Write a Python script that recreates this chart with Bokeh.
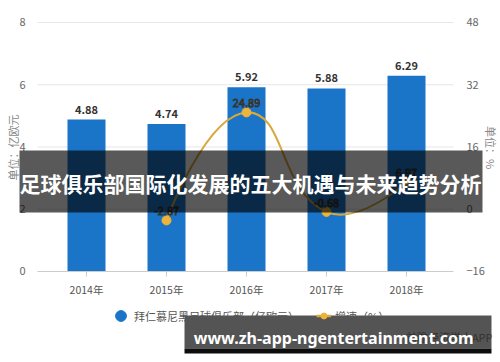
import math
from bokeh.plotting import figure
from bokeh.models import (Range1d, LinearAxis, FixedTicker, ColumnDataSource, Label,
                          BoxAnnotation, Legend, LegendItem)
from bokeh.core.properties import value
from bokeh.embed import file_html
from bokeh.resources import INLINE

# ---- data ----
years = ["2014年", "2015年", "2016年", "2017年", "2018年"]
revenue = [4.88, 4.74, 5.92, 5.88, 6.29]          # 亿欧元
growth_years = ["2015年", "2016年", "2017年", "2018年"]
growth = [-2.87, 24.89, -0.68, 6.97]              # %
left_ticks = [0, 2, 4, 6, 8]
right_ticks = [-16, 0, 16, 32, 48]
title_text = "足球俱乐部国际化发展的五大机遇与未来趋势分析"
url_text = "www.zh-app-ngentertainment.com"
bar_name = "拜仁慕尼黑足球俱乐部（亿欧元）"
line_name = "增速（%）"
left_title = "单位：亿欧元"
right_title = "单位：%"
source_text = "前瞻经济学人APP"

BLUE = "#1a75c8"
GOLD = "#d8a83a"
GOLD_M = "#eeb33a"
FONT = "Noto Sans CJK SC"

# layout (plot area edges in category / value units; the canvas is the whole frame)
X_LO, X_HI = -0.6125, 4.5875
XR = (-1.075, 5.175)
YR = (-2.9237, 8.7068)
PCT = (8 * YR[0] - 16, 8 * YR[1] - 16)

xs = list(range(len(years)))
gx = [years.index(y) for y in growth_years]

p = figure(width=500, height=362, output_backend="svg", toolbar_location=None,
           x_range=Range1d(*XR), y_range=Range1d(*YR),
           min_border_left=0, min_border_right=0, min_border_top=0, min_border_bottom=0)
p.outline_line_color = None
p.background_fill_color = "white"
p.border_fill_color = "white"
p.extra_y_ranges = {"pct": Range1d(*PCT)}
p.xgrid.grid_line_color = None
p.ygrid.grid_line_color = None

# horizontal grid lines across the plot area
p.segment(x0=[X_LO] * 4, x1=[X_HI] * 4, y0=left_ticks[1:], y1=left_ticks[1:],
          line_color="#e6e6e6", line_width=1)

# x axis (drawn at value 0)
xa = p.xaxis[0]
xa.fixed_location = 0
xa.bounds = (X_LO, X_HI)
xa.ticker = FixedTicker(ticks=xs)
xa.major_label_overrides = {i: y for i, y in zip(xs, years)}
xa.axis_line_color = "#cccccc"
xa.major_tick_line_color = "#cccccc"
xa.major_tick_out = 5
xa.major_tick_in = 0
xa.minor_tick_line_color = None
xa.major_label_standoff = 6
xa.major_label_text_font = FONT
xa.major_label_text_font_size = "10.5px"
xa.major_label_text_color = "#555555"

# left y axis
ya = p.yaxis[0]
ya.fixed_location = X_LO
ya.ticker = FixedTicker(ticks=left_ticks)
ya.axis_line_color = None
ya.major_tick_line_color = None
ya.minor_tick_line_color = None
ya.major_label_standoff = 6
ya.major_label_text_font = FONT
ya.major_label_text_font_size = "11px"
ya.major_label_text_color = "#666666"

# right y axis
ra = LinearAxis(y_range_name="pct", ticker=FixedTicker(ticks=right_ticks), fixed_location=X_HI)
ra.axis_line_color = None
ra.major_tick_line_color = None
ra.minor_tick_line_color = None
ra.major_label_standoff = 7
ra.major_label_text_font = FONT
ra.major_label_text_font_size = "11px"
ra.major_label_text_color = "#666666"
p.add_layout(ra, "right")

# bars
bar_src = ColumnDataSource(dict(x=xs, top=revenue, lab=[f"{v:.2f}" for v in revenue]))
p.vbar(x="x", top="top", width=0.475, bottom=0, source=bar_src, fill_color=BLUE, line_color=None)
p.text(x="x", y="top", text="lab", source=bar_src, text_align="center", text_baseline="bottom",
       y_offset=-6, text_font=value(FONT), text_font_style="bold", text_font_size="11px",
       text_color="#333333")

# smooth growth line (echarts-like bezier control points)
SX, SY = 80.0, 3.875
P = [(x * SX, -g * SY) for x, g in zip(gx, growth)]
n = len(P)
sm = 0.5
cps = []
for i in range(n):
    if i == 0 or i == n - 1:
        cps.append(P[i])
        continue
    vx = (P[i + 1][0] - P[i - 1][0]) * sm
    vy = (P[i + 1][1] - P[i - 1][1]) * sm
    d0 = math.dist(P[i], P[i - 1])
    d1 = math.dist(P[i], P[i + 1])
    s = d0 + d1
    d0 /= s
    d1 /= s
    cps.append((P[i][0] - vx * d0, P[i][1] - vy * d0))
    cps.append((P[i][0] + vx * d1, P[i][1] + vy * d1))
seg = dict(x0=[], y0=[], x1=[], y1=[], cx0=[], cy0=[], cx1=[], cy1=[])
for i in range(n - 1):
    a, b = P[i], P[i + 1]
    c0, c1 = cps[2 * i], cps[2 * i + 1]
    seg["x0"].append(a[0] / SX); seg["y0"].append(-a[1] / SY)
    seg["x1"].append(b[0] / SX); seg["y1"].append(-b[1] / SY)
    seg["cx0"].append(c0[0] / SX); seg["cy0"].append(-c0[1] / SY)
    seg["cx1"].append(c1[0] / SX); seg["cy1"].append(-c1[1] / SY)
p.bezier(source=ColumnDataSource(seg), x0="x0", y0="y0", x1="x1", y1="y1",
         cx0="cx0", cy0="cy0", cx1="cx1", cy1="cy1",
         line_color=GOLD, line_width=2, y_range_name="pct")

gsrc = ColumnDataSource(dict(x=gx, y=growth, lab=[f"{v:.2f}" for v in growth]))
p.scatter(x="x", y="y", source=gsrc, marker="circle", size=9, fill_color=GOLD_M,
          line_color=GOLD_M, y_range_name="pct")
p.text(x="x", y="y", text="lab", source=gsrc, y_range_name="pct", text_align="center",
       text_baseline="bottom", y_offset=-5, text_font=value(FONT), text_font_size="11px",
       text_color="white", text_outline_color="#333333")

# axis titles
p.add_layout(Label(x=-0.925, y=3.98, text=left_title, angle=math.pi / 2, text_align="center",
                   text_baseline="middle", text_font=FONT, text_font_size="11px",
                   text_color="#888888"))
p.add_layout(Label(x=5.05, y=3.98, text=right_title, angle=-math.pi / 2, text_align="center",
                   text_baseline="middle", text_font=FONT, text_font_size="11px",
                   text_color="#888888"))

# legend swatches (one point each, placed outside the visible ranges)
OFF_X, OFF_Y = XR[0] - 5, YR[0] - 5
r1 = p.scatter(x=[OFF_X], y=[OFF_Y], marker="circle", size=11, fill_color=BLUE, line_color=BLUE)
r2 = p.line(x=[OFF_X, OFF_X - 1], y=[OFF_Y, OFF_Y], line_color=GOLD, line_width=2.5)
r3 = p.scatter(x=[OFF_X], y=[OFF_Y], marker="circle", size=7, fill_color=GOLD_M, line_color=GOLD_M)
common = dict(orientation="horizontal", border_line_color=None, background_fill_alpha=0,
              label_text_font=FONT, label_text_font_size="11px", label_text_color="#555555",
              padding=0, margin=0)
legend1 = Legend(items=[LegendItem(label=bar_name, renderers=[r1])], location=(107, 33),
                 glyph_width=27, glyph_height=27, label_standoff=0, **common)
legend2 = Legend(items=[LegendItem(label=line_name, renderers=[r2, r3])], location=(316, 38),
                 glyph_width=15, glyph_height=17, label_standoff=4, **common)
p.add_layout(legend1)
p.add_layout(legend2)

# source text partly hidden under the bottom banner
p.add_layout(Label(x=5.075, y=-2.09, text=source_text, text_align="right",
                   text_baseline="middle", text_font=FONT, text_font_size="11px",
                   text_color="#999999"))

# overlay banners
p.add_layout(BoxAnnotation(left=-0.8375, right=4.95, top=3.8875, bottom=1.8956,
                           fill_color="black", fill_alpha=0.65, line_color=None))
p.add_layout(Label(x=2.05, y=2.83, text=title_text, text_align="center", text_baseline="middle",
                   text_font=FONT, text_font_style="bold", text_font_size="21px",
                   text_color="white"))
p.add_layout(BoxAnnotation(left=1.225, right=5.0625, top=-1.4137, bottom=-2.474,
                           fill_color="black", fill_alpha=0.67, line_color=None))
p.add_layout(BoxAnnotation(left=1.225, right=5.0625, top=-2.474, bottom=-2.6345,
                           fill_color="black", fill_alpha=0.95, line_color=None))
p.add_layout(Label(x=3.09, y=-2.15, text=url_text, text_align="center", text_baseline="middle",
                   text_font="Noto Sans", text_font_style="bold", text_font_size="16px",
                   text_color="white"))

open("out.html", "w").write(file_html(p, INLINE))
